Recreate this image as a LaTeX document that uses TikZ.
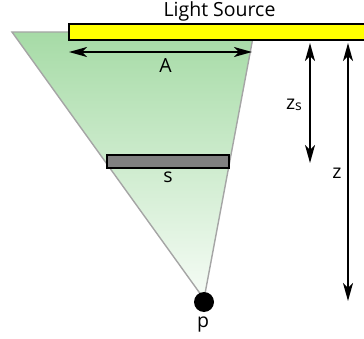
\documentclass[tikz,border=0pt]{standalone}
\usepackage{fontspec}
\setmainfont{Open Sans}
\usetikzlibrary{arrows.meta}

\definecolor{sourceyellow}{RGB}{255,255,0}
\definecolor{conegreen}{RGB}{166,219,166}
\definecolor{conepale}{RGB}{246,252,246}
\definecolor{blockergray}{RGB}{128,128,128}
\definecolor{coneedge}{RGB}{165,165,165}

\tikzset{
  labeltext/.style={font=\fontsize{19.5}{19.5}\selectfont, inner sep=0pt, anchor=base},
  dimarrow/.style={{Stealth[length=18pt,width=10pt,inset=5pt]}-{Stealth[length=18pt,width=10pt,inset=5pt]}, line width=1.6pt},
  barline/.style={draw=black, line width=1.8pt},
}

\begin{document}
\begin{tikzpicture}[x=1pt,y=-1pt]
\clip (0,0) rectangle (364,339);

% cone of light seen from p
\shadedraw[top color=conegreen, bottom color=conepale, draw=coneedge, line width=1.4pt]
  (12,32) -- (254,32) -- (204,299) -- cycle;

% light source and blocker
\path[barline, fill=sourceyellow] (69,24) rectangle (367,40);
\path[barline, fill=blockergray] (107,155) rectangle (229,168);

% receiver point
\node[circle, fill=black, minimum size=20pt, inner sep=0pt] (pdot) at (204,302) {};

% dimension end points
\coordinate (aleft) at (69,52);
\coordinate (aright) at (252,52);
\coordinate (zstop) at (310,43);
\coordinate (zsbot) at (310,163);
\coordinate (ztop) at (348,43);
\coordinate (zbot) at (348,301);

\draw[dimarrow] (aleft) -- (aright);
\draw[dimarrow] (zstop) -- (zsbot);
\draw[dimarrow] (ztop) -- (zbot);

% labels
\node[labeltext] (srclabel) at (219.5,17) {Light Source};
\node[labeltext] (alabel) at (165.5,73) {A};
\node[labeltext] (zslabel) at (294,110) {z\raisebox{-0.5pt}{\fontsize{14}{14}\selectfont s}};
\node[labeltext] (zlabel) at (337,179) {z};
\node[labeltext] (slabel) at (168,183) {s};
\node[labeltext] (plabel) at (203,327) {p};
\end{tikzpicture}
\end{document}
